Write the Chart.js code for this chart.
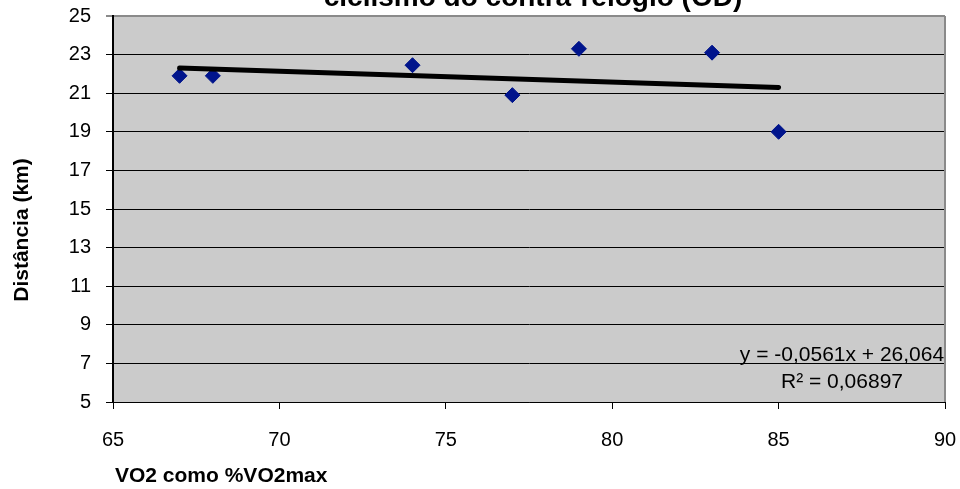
<!DOCTYPE html>
<html>
<head>
<meta charset="utf-8">
<script src="https://cdn.jsdelivr.net/npm/chart.js@4.4.0/dist/chart.umd.min.js"></script>
<style>
  html, body { margin: 0; padding: 0; background: #fff; }
  #wrap { width: 960px; height: 489px; position: relative; }
</style>
</head>
<body>
<div id="wrap"><canvas id="chartVo2"></canvas></div>
<script>
// data
const vo2Pct = [67, 68, 74, 77, 79, 83, 85];
const distKm = [21.9, 21.9, 22.45, 20.9, 23.3, 23.1, 19.0];
const trendX = [67, 85];
const trendY = [22.3, 21.3];
const xTicks = [65, 70, 75, 80, 85, 90];
const yTicks = [5, 7, 9, 11, 13, 15, 17, 19, 21, 23, 25];
const chartTitle = 'ciclismo do contra-relógio (OD)';
const xTitle = 'VO2 como %VO2max';
const yTitle = 'Distância (km)';
const eqLines = ['y = -0,0561x + 26,064', 'R² = 0,06897'];

const FONT = '"Liberation Sans", Arial, sans-serif';
Chart.defaults.font.family = FONT;
Chart.defaults.color = '#000';

const plotDecor = {
    id: 'plotDecor',
    beforeDraw(chart) {
        const { ctx, chartArea: a } = chart;
        ctx.save();
        ctx.fillStyle = '#cbcbcb';
        ctx.fillRect(a.left, a.top, a.right - a.left, a.bottom - a.top);
        ctx.restore();
    },
    afterDraw(chart) {
        const { ctx, chartArea: a } = chart;
        ctx.save();
        // right border
        ctx.strokeStyle = '#8a8a8a';
        ctx.lineWidth = 2;
        ctx.beginPath();
        ctx.moveTo(a.right, a.top);
        ctx.lineTo(a.right, a.bottom);
        ctx.stroke();

        ctx.fillStyle = '#000';
        // chart title (top part cut off in the original)
        ctx.font = 'bold 28px ' + FONT;
        ctx.textAlign = 'center';
        ctx.textBaseline = 'alphabetic';
        ctx.fillText(chartTitle, 533, 6);

        // axis titles
        ctx.font = 'bold 21px ' + FONT;
        ctx.textBaseline = 'middle';
        ctx.textAlign = 'left';
        ctx.fillText(xTitle, 115, 476);
        ctx.save();
        ctx.translate(22, 230);
        ctx.rotate(-Math.PI / 2);
        ctx.textAlign = 'center';
        ctx.fillText(yTitle, 0, 0);
        ctx.restore();

        // trendline equation
        ctx.font = '21px ' + FONT;
        ctx.textAlign = 'center';
        ctx.fillText(eqLines[0], 842, 355);
        ctx.fillText(eqLines[1], 842, 382);
        ctx.restore();
    }
};

// drop the label overflow padding so the plot box is set by layout.padding
const noOverflow = s => {
    s.paddingTop = 0; s.paddingBottom = 0;
    s.paddingLeft = 0; s.paddingRight = 0;
};

const ctx = document.getElementById('chartVo2').getContext('2d');
new Chart(ctx, {
    type: 'scatter',
    data: {
        datasets: [
            {
                label: 'Distância',
                data: vo2Pct.map((x, i) => ({ x, y: distKm[i] })),
                pointStyle: 'rectRot',
                pointRadius: 7.5,
                pointHoverRadius: 7.5,
                backgroundColor: '#00148c',
                borderColor: '#00148c',
                borderWidth: 1,
                order: 2
            },
            {
                label: 'Linear',
                data: trendX.map((x, i) => ({ x, y: trendY[i] })),
                showLine: true,
                borderColor: '#000',
                borderWidth: 5,
                borderCapStyle: 'round',
                pointRadius: 0,
                order: 1
            }
        ]
    },
    options: {
        responsive: true, maintainAspectRatio: false,
        animation: false,
        layout: { autoPadding: false, padding: { top: 16, right: 15, left: 0, bottom: 0 } },
        plugins: {
            legend: { display: false },
            tooltip: { enabled: false },
            title: { display: false }
        },
        scales: {
            x: {
                type: 'linear',
                min: xTicks[0], max: xTicks[xTicks.length - 1],
                afterBuildTicks: s => { s.ticks = xTicks.map(v => ({ value: v })); },
                afterFit: s => { s.height = 87; noOverflow(s); },
                grid: { drawOnChartArea: false, drawTicks: true, tickLength: 7, color: '#000' },
                border: { display: true, color: '#000', width: 1 },
                ticks: { padding: 19, font: { size: 20 }, color: '#000', callback: v => String(v) }
            },
            y: {
                type: 'linear',
                min: yTicks[0], max: yTicks[yTicks.length - 1],
                afterBuildTicks: s => { s.ticks = yTicks.map(v => ({ value: v })); },
                afterFit: s => { s.width = 113; noOverflow(s); },
                grid: {
                    drawTicks: true, tickLength: 7,
                    color: c => c.tick && c.tick.value === 25 ? '#8a8a8a' : '#000',
                    lineWidth: c => c.tick && c.tick.value === 25 ? 2 : 1
                },
                border: { display: true, color: '#000', width: 2 },
                ticks: { padding: 15, font: { size: 20 }, color: '#000', callback: v => String(v) }
            }
        }
    },
    plugins: [plotDecor]
});
</script>
</body>
</html>
